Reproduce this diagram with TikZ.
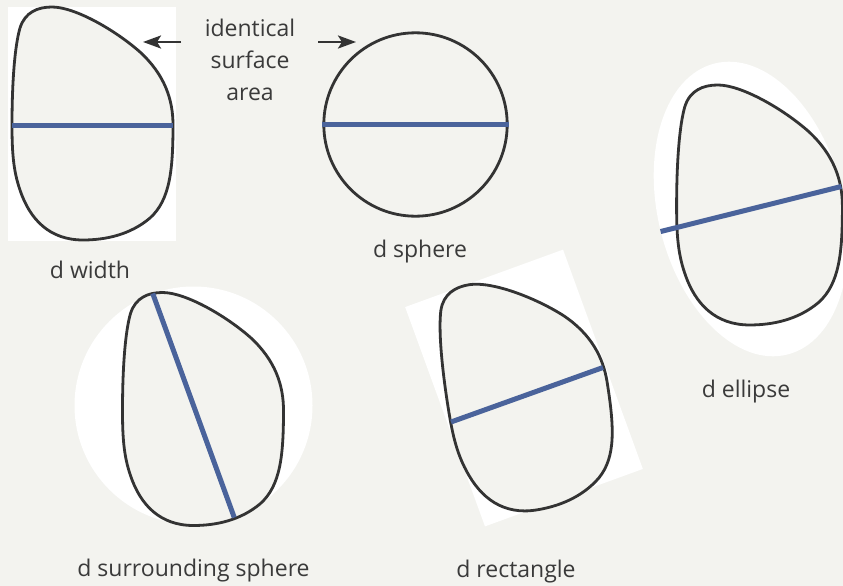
\documentclass[tikz,border=0pt]{standalone}
\usepackage{fontspec}
\setmainfont{Open Sans}
\usetikzlibrary{arrows.meta,shapes.geometric}
\definecolor{bg}{RGB}{243,243,239}
\definecolor{outl}{RGB}{51,51,51}
\definecolor{dblue}{RGB}{74,99,155}
\definecolor{txt}{RGB}{58,58,58}
\tikzset{
  blobshape/.style={insert path={(12,125) .. controls (12,80) and (15,45) .. (20,28)
     .. controls (25,12) and (38,7) .. (52,7)
     .. controls (75,7) and (115,30) .. (140,52)
     .. controls (165,75) and (173,100) .. (173,125)
     .. controls (173,170) and (170,200) .. (150,218)
     .. controls (130,235) and (105,240) .. (83,240)
     .. controls (50,240) and (30,220) .. (20,190)
     .. controls (13,170) and (12,150) .. (12,125) -- cycle}},
  outline/.style={draw=outl, line width=2.8pt, fill=bg},
  diam/.style={draw=dblue, line width=5pt},
  whitebg/.style={fill=white, draw=none, inner sep=0pt},
  lbl/.style={text=txt, font=\fontsize{23}{26}\selectfont, anchor=base, inner sep=0pt},
  arr/.style={draw=outl, line width=2.7pt, -{Stealth[length=18pt, width=13pt, inset=4pt]}}
}
\begin{document}
\begin{tikzpicture}[x=1pt,y=-1pt]
\useasboundingbox (0,0) rectangle (843,586);
\clip (0,0) rectangle (843,586);
\fill[bg] (0,0) rectangle (843,586);

% d width
\node[whitebg, minimum width=168pt, minimum height=233.4pt] (wr) at (92,124) {};
\draw[outline, blobshape];
\coordinate (w1) at (12,125);
\coordinate (w2) at (173,125);
\draw[diam] (w1) -- (w2);

% d sphere
\node[circle, draw=outl, line width=2.8pt, fill=bg, minimum size=183.4pt, inner sep=0pt] (sph) at (415.5,124.5) {};
\draw[diam] (sph.west) -- (sph.east);

% d surrounding sphere
\node[circle, whitebg, minimum size=238pt] (ss) at (193.5,405.5) {};
\begin{scope}[shift={(110.5,285.5)}]
\draw[outline, blobshape];
\end{scope}
\draw[diam] (ss.110) -- (ss.290);

% d rectangle
\node[whitebg, minimum width=168pt, minimum height=233.4pt, rotate=20] (rc) at (524,388) {};
\begin{scope}[shift={(527,394)}, rotate=9, shift={(-92,-124)}]
\draw[outline, blobshape];
\end{scope}
\coordinate (r1) at (451,422);
\coordinate (r2) at (603,367.5);
\draw[diam] (r1) -- (r2);

% d ellipse
\node[ellipse, whitebg, minimum width=186pt, minimum height=300pt, rotate=14] (el) at (751,209) {};
\begin{scope}[shift={(759,205.5)}, scale=1.03, shift={(-92,-124)}]
\draw[outline, blobshape];
\end{scope}
\draw[diam] (el.west) -- (el.east);

% texts
\node[lbl] (t1) at (250,36.7) {identical};
\node[lbl] (t2) at (250,68.5) {surface};
\node[lbl] (t3) at (250,100.3) {area};
\node[lbl] (lw) at (90,278) {d width};
\node[lbl] (ls) at (420,257) {d sphere};
\node[lbl] (le) at (746,397.7) {d ellipse};
\node[lbl] (lr) at (516,577) {d rectangle};
\node[lbl] (lss) at (193.5,576.7) {d surrounding sphere};

% arrows
\coordinate (a1s) at (181,42);
\coordinate (a1e) at (143,42);
\coordinate (a2s) at (318,42);
\coordinate (a2e) at (356,42);
\draw[arr] (a1s) -- (a1e);
\draw[arr] (a2s) -- (a2e);
\end{tikzpicture}
\end{document}
